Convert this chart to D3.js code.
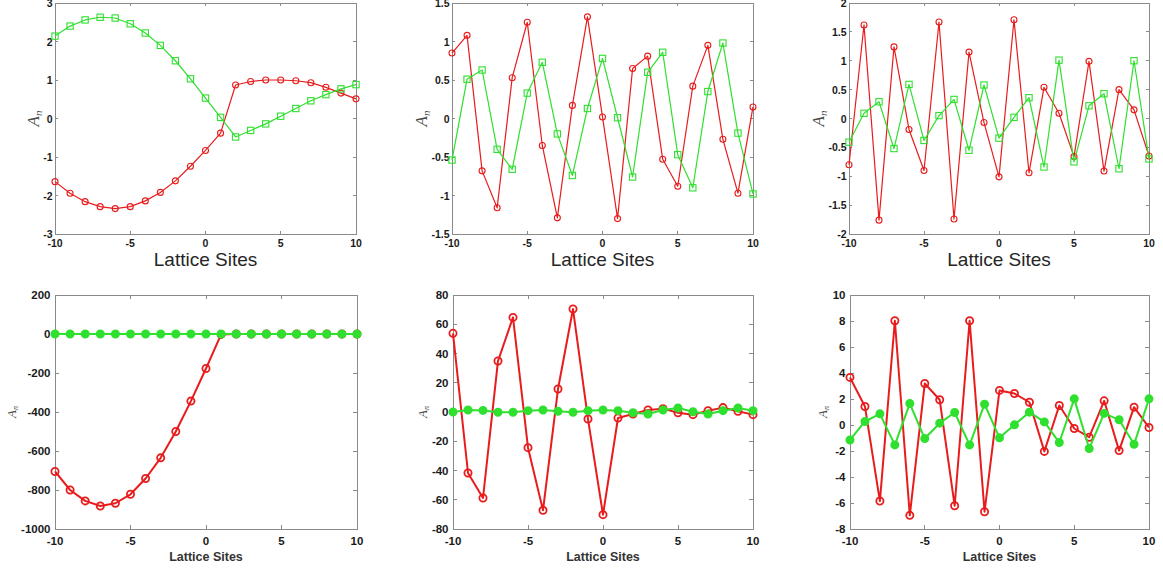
<!DOCTYPE html>
<html><head><meta charset="utf-8">
<script src="https://cdn.jsdelivr.net/npm/d3@7"></script>
<style>body{margin:0;background:#fff}svg{display:block}</style>
</head><body><svg id="c" width="1163" height="572"></svg>
<script>
// ---------------- DATA ----------------
const sites = [-10,-9,-8,-7,-6,-5,-4,-3,-2,-1,0,1,2,3,4,5,6,7,8,9,10];
const xTicks = [-10,-5,0,5,10];
const xLabel = "Lattice Sites";

const p1Red   = [-1.64,-1.94,-2.16,-2.29,-2.34,-2.29,-2.14,-1.92,-1.62,-1.24,-0.83,-0.38,0.87,0.96,1.00,1.00,0.98,0.93,0.81,0.66,0.51];
const p1Green = [2.14,2.40,2.56,2.63,2.61,2.46,2.22,1.90,1.50,1.03,0.53,0.03,-0.48,-0.31,-0.14,0.06,0.26,0.46,0.62,0.77,0.88];
const p1YTicks = [-3,-2,-1,0,1,2,3];

const p2Red   = [0.85,1.08,-0.68,-1.16,0.53,1.25,-0.35,-1.29,0.17,1.32,0.02,-1.30,0.65,0.81,-0.53,-0.88,0.42,0.95,-0.27,-0.97,0.15];
const p2Green = [-0.54,0.51,0.63,-0.40,-0.66,0.33,0.73,-0.20,-0.74,0.13,0.78,0.01,-0.76,0.60,0.86,-0.47,-0.90,0.35,0.98,-0.19,-0.98];
const p2YTicks = [-1.5,-1,-0.5,0,0.5,1,1.5];

const p3Red   = [-0.80,1.62,-1.76,1.24,-0.19,-0.90,1.67,-1.74,1.15,-0.07,-1.01,1.71,-0.94,0.54,0.09,-0.66,0.99,-0.91,0.50,0.15,-0.65];
const p3Green = [-0.41,0.09,0.29,-0.52,0.59,-0.38,0.05,0.33,-0.55,0.58,-0.34,0.02,0.36,-0.84,1.01,-0.75,0.22,0.43,-0.87,1.00,-0.70];
const p3YTicks = [-2,-1.5,-1,-0.5,0,0.5,1,1.5,2];

const p4Red   = [-705,-800,-856,-882,-868,-822,-741,-635,-500,-344,-177,-2,0,0,0,0,0,0,0,0,0];
const p4Green = [0,0,0,0,0,0,0,0,0,0,0,0,0,0,0,0,0,0,0,0,0];
const p4YTicks = [-1000,-800,-600,-400,-200,0,200];

const p5Red   = [53.8,-41.7,-58.8,34.9,64.7,-24.4,-67.2,15.7,70.4,-4.8,-70.2,-4.1,-1.4,1.4,2.3,-0.5,-1.8,0.9,3.0,0.5,-1.8];
const p5Green = [0,1.4,1.1,-0.2,-0.2,0.9,1.4,0.5,-0.2,0.9,1.4,0.9,-0.5,-1.4,1.4,2.7,0.2,-1.4,0.9,2.7,0.9];
const p5YTicks = [-80,-60,-40,-20,0,20,40,60,80];

const p6Red   = [3.66,1.42,-5.85,8.02,-6.95,3.19,1.94,-6.21,8.02,-6.67,2.66,2.42,1.75,-2.03,1.50,-0.27,-0.94,1.86,-1.97,1.37,-0.19];
const p6Green = [-1.15,0.27,0.86,-1.53,1.65,-1.04,0.14,0.96,-1.53,1.60,-0.99,0.01,0.99,0.24,-1.35,2.01,-1.81,0.89,0.40,-1.48,2.01];
const p6YTicks = [-8,-6,-4,-2,0,2,4,6,8,10];

// ---------------- LAYOUT ----------------
const RED = "#e81c1c", GREEN = "#2fe02f", AXIS = "#8a8a8a";
const topStyle = {y0:3, y1:234, tickFont:10.5, tickLen:3, xLblGap:5, yLblGap:2.5,
  titleSize:19, titleWeight:"normal", titleY:259, titleColor:"#262626",
  aSize:17, subSize:11, lw:1.2, r:3, redFill:"none", greenShape:"square", greenFill:"none", mstroke:1.1};
const botStyle = {y0:295, y1:529, tickFont:11.5, tickLen:4, xLblGap:8, yLblGap:4.5,
  titleSize:12.5, titleWeight:"bold", titleY:557, titleColor:"#333",
  aSize:13, subSize:8, lw:2, r:3.6, redFill:"none", greenShape:"circle", greenFill:GREEN, mstroke:1.8};

const panels = [
  {x0:55, x1:356, st:topStyle, dom:[-3,3], yt:p1YTicks, red:p1Red, green:p1Green},
  {x0:452, x1:753, st:topStyle, dom:[-1.5,1.5], yt:p2YTicks, red:p2Red, green:p2Green},
  {x0:849, x1:1149, st:topStyle, dom:[-2,2], yt:p3YTicks, red:p3Red, green:p3Green},
  {x0:55, x1:357, st:botStyle, dom:[-1000,200], yt:p4YTicks, red:p4Red, green:p4Green},
  {x0:453, x1:753, st:botStyle, dom:[-80,80], yt:p5YTicks, red:p5Red, green:p5Green},
  {x0:850, x1:1149, st:botStyle, dom:[-8,10], yt:p6YTicks, red:p6Red, green:p6Green},
];

const svg = d3.select("#c");
const FONT = "Arial, 'Liberation Sans', sans-serif";

panels.forEach(p => {
  const s = p.st;
  const x = d3.scaleLinear().domain([-10,10]).range([p.x0, p.x1]);
  const y = d3.scaleLinear().domain(p.dom).range([s.y1, s.y0]);
  const g = svg.append("g");

  // box
  g.append("rect").attr("x", p.x0).attr("y", s.y0).attr("width", p.x1-p.x0).attr("height", s.y1-s.y0)
    .attr("fill","none").attr("stroke",AXIS).attr("stroke-width",1).attr("shape-rendering","crispEdges");

  // ticks inward on all sides
  const tk = g.append("g").attr("stroke",AXIS).attr("stroke-width",1).attr("shape-rendering","crispEdges");
  xTicks.forEach(v => {
    tk.append("line").attr("x1",x(v)).attr("x2",x(v)).attr("y1",s.y1).attr("y2",s.y1-s.tickLen);
    tk.append("line").attr("x1",x(v)).attr("x2",x(v)).attr("y1",s.y0).attr("y2",s.y0+s.tickLen);
  });
  p.yt.forEach(v => {
    tk.append("line").attr("x1",p.x0).attr("x2",p.x0+s.tickLen).attr("y1",y(v)).attr("y2",y(v));
    tk.append("line").attr("x1",p.x1).attr("x2",p.x1-s.tickLen).attr("y1",y(v)).attr("y2",y(v));
  });

  // tick labels
  const xl = g.append("g").attr("font-family",FONT).attr("font-size",s.tickFont).attr("font-weight","bold").attr("fill","#1a1a1a");
  xTicks.forEach(v => {
    xl.append("text").attr("x",x(v)).attr("y",s.y1+s.xLblGap).attr("text-anchor","middle")
      .attr("dominant-baseline","hanging").text(String(v));
  });
  const yl = g.append("g").attr("font-family",FONT).attr("font-size",s.tickFont).attr("font-weight","bold").attr("fill","#1a1a1a");
  p.yt.forEach(v => {
    yl.append("text").attr("x",p.x0-s.yLblGap).attr("y",y(v)).attr("text-anchor","end")
      .attr("dominant-baseline","central").text(String(v));
  });
  const yw = yl.node().getBBox().width;

  // x label
  g.append("text").attr("x",(p.x0+p.x1)/2).attr("y",s.titleY).attr("text-anchor","middle")
    .attr("dominant-baseline","central").attr("font-family",FONT).attr("font-size",s.titleSize)
    .attr("font-weight",s.titleWeight).attr("fill",s.titleColor).text(xLabel);

  // y label A_n
  const lx = p.x0 - s.yLblGap - yw - 10;
  const ly = (s.y0+s.y1)/2;
  const t = g.append("text").attr("transform",`translate(${lx},${ly}) rotate(-90)`)
    .attr("text-anchor","middle").attr("dominant-baseline","central")
    .attr("font-family","'Liberation Serif','DejaVu Serif',serif").attr("font-style","italic").attr("fill","#4a4a4a");
  t.append("tspan").attr("font-size",s.aSize).text("A");
  t.append("tspan").attr("font-size",s.subSize).attr("dy",s.aSize*0.3).text("n");

  // series
  const line = d3.line().x((d,i)=>x(sites[i])).y(d=>y(d));
  const drawSeries = (vals, color, shape, fill) => {
    g.append("path").datum(vals).attr("d",line).attr("fill","none").attr("stroke",color)
      .attr("stroke-width",s.lw).attr("stroke-linejoin","round");
    if (shape === "square") {
      const a = s.r*2.1;
      g.selectAll(null).data(vals).enter().append("rect")
        .attr("x",(d,i)=>x(sites[i])-a/2).attr("y",d=>y(d)-a/2).attr("width",a).attr("height",a)
        .attr("fill",fill).attr("stroke",color).attr("stroke-width",s.mstroke);
    } else {
      g.selectAll(null).data(vals).enter().append("circle")
        .attr("cx",(d,i)=>x(sites[i])).attr("cy",d=>y(d)).attr("r",s.r)
        .attr("fill",fill).attr("stroke",color).attr("stroke-width",s.mstroke);
    }
  };
  drawSeries(p.red, RED, "circle", s.redFill);
  drawSeries(p.green, GREEN, s.greenShape, s.greenFill);
});
</script>
</body></html>
